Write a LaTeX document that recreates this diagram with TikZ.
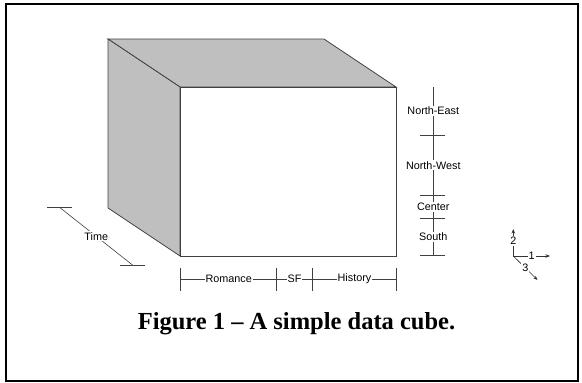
\documentclass[tikz,border=0pt]{standalone}
\usepackage{fontspec}
\setmainfont{Liberation Serif}
\newfontfamily\arialfont{Liberation Sans}
\usetikzlibrary{positioning, arrows.meta, calc}

\begin{document}
\begin{tikzpicture}[
    x=1pt,
    y=-1pt,
    font=\arialfont\fontsize{10.8}{12}\selectfont,
    cubeedge/.style={draw=black!75, line width=0.8pt, line join=miter},
    dimline/.style={draw=black!75, line width=0.6pt},
    dimlabel/.style={fill=white, inner sep=1pt},
    axisarrow/.style={-{Stealth[length=4.5pt, width=3.5pt]}, draw=black!80, line width=0.6pt}
]

\colorlet{faceGray}{black!25}

\useasboundingbox (0,0) rectangle (582,383);
\draw[line width=1.3pt] (6,4) rectangle (578,381);

% Cube corners: front face and the back corners that can be seen.
\coordinate (ftl) at (180,87);
\coordinate (ftr) at (396,87);
\coordinate (fbr) at (396,256);
\coordinate (fbl) at (180,256);
\coordinate (btl) at (108,39);
\coordinate (btr) at (324,39);
\coordinate (bbl) at (108,208);

\draw[cubeedge, fill=faceGray] (btl) -- (btr) -- (ftr) -- (ftl) -- cycle;
\draw[cubeedge, fill=faceGray] (btl) -- (ftl) -- (fbl) -- (bbl) -- cycle;
\draw[cubeedge, fill=white] (ftl) rectangle (fbr);

% Product dimension under the front face.
\foreach \x [count=\i] in {180.7, 276.7, 312.3, 396.7} {
    \coordinate (p\i) at (\x,279);
    \draw[dimline] (\x,268) -- (\x,291);
}
\draw[dimline] (p1) -- node[dimlabel] (romance) {Romance} (p2);
\draw[dimline] (p2) -- node[dimlabel] (sf) {SF} (p3);
\draw[dimline] (p3) -- node[dimlabel] (history) {History} (p4);

% Location dimension beside the front face.
\coordinate (r0) at (433.3,87);
\foreach \y [count=\i] in {135, 195.7, 218.3, 255} {
    \coordinate (r\i) at (433.3,\y);
    \draw[dimline] (420,\y) -- (445,\y);
}
\draw[dimline] (r0) -- node[dimlabel] (northeast) {North-East} (r1);
\draw[dimline] (r1) -- node[dimlabel] (northwest) {North-West} (r2);
\draw[dimline] (r2) -- node[dimlabel] (center) {Center} (r3);
\draw[dimline] (r3) -- node[dimlabel] (south) {South} (r4);

% Time dimension, running into the depth.
\coordinate (t1) at (60,207.7);
\coordinate (t2) at (132.5,265);
\draw[dimline] (47.3,207.7) -- (72.3,207.7);
\draw[dimline] (120,265) -- (145,265);
\draw[dimline] (t1) -- node[dimlabel, pos=0.5] (time) {Time} (t2);

% Axis key.
\coordinate (origin) at (513.3,256);
\coordinate (ax1) at (550,256);
\coordinate (ax2) at (513.3,229);
\coordinate (ax3) at (537.5,280);
\draw[axisarrow] (origin) -- node[dimlabel, pos=0.5] (one) {1} (ax1);
\draw[axisarrow] (origin) -- node[dimlabel, pos=0.55] (two) {2} (ax2);
\draw[axisarrow] (origin) -- node[dimlabel, pos=0.5] (three) {3} (ax3);

\node[anchor=base, font=\bfseries\fontsize{24.5}{28}\selectfont] (caption) at (296.5,329.5)
    {Figure 1 – A simple data cube.};

\end{tikzpicture}
\end{document}
